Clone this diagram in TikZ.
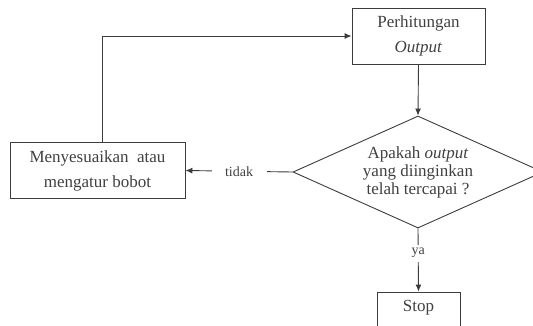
\documentclass[tikz,border=0pt]{standalone}
\usepackage{fontspec}
\setmainfont{Liberation Serif}
\usetikzlibrary{shapes.geometric,arrows.meta}
\definecolor{ink}{HTML}{3C3C3C}
\definecolor{txt}{HTML}{404040}
\begin{document}
\begin{tikzpicture}[x=1pt,y=-1pt,
  box/.style={draw=ink,line width=0.9pt,rectangle,inner sep=0pt,align=center,text=txt,
    font=\fontsize{17}{25}\selectfont},
  decide/.style={draw=ink,line width=0.9pt,diamond,aspect=2.23,inner sep=0pt,
    minimum width=250pt,minimum height=112pt,align=center,text=txt,
    font=\fontsize{17}{18}\selectfont},
  conn/.style={draw=ink,line width=0.9pt,-{Latex[length=7pt,width=6pt]}},
  lab/.style={fill=white,text=txt,inner sep=0pt,font=\fontsize{14}{16}\selectfont}]
\useasboundingbox (0,0) rectangle (533,325);
\clip (0,0) rectangle (533,325);
\node[box,minimum width=133pt,minimum height=56pt] (calc) at (418.5,36) {Perhitungan\\\textit{Output}};
\node[box,minimum width=175pt,minimum height=56pt] (adj) at (97.5,170.5) {Menyesuaikan\ \ atau\\mengatur bobot};
\node[decide] (dia) at (418,172) {Apakah \textit{output}\\yang diinginkan\\telah tercapai ?};
\node[box,minimum width=83pt,minimum height=36pt,text depth=8pt] (stop) at (418.5,310) {Stop};
\draw[conn] (calc.south) -- (dia.north);
\draw[conn] (dia.west) -- node[lab,minimum width=55pt,minimum height=14pt] {tidak} (adj.east);
\draw[conn] (dia.south) -- node[lab,pos=0.39,minimum height=17pt] {ya} (stop.north);
\draw[conn] ([xshift=4.5pt]adj.north) |- (calc.west);
\end{tikzpicture}
\end{document}
